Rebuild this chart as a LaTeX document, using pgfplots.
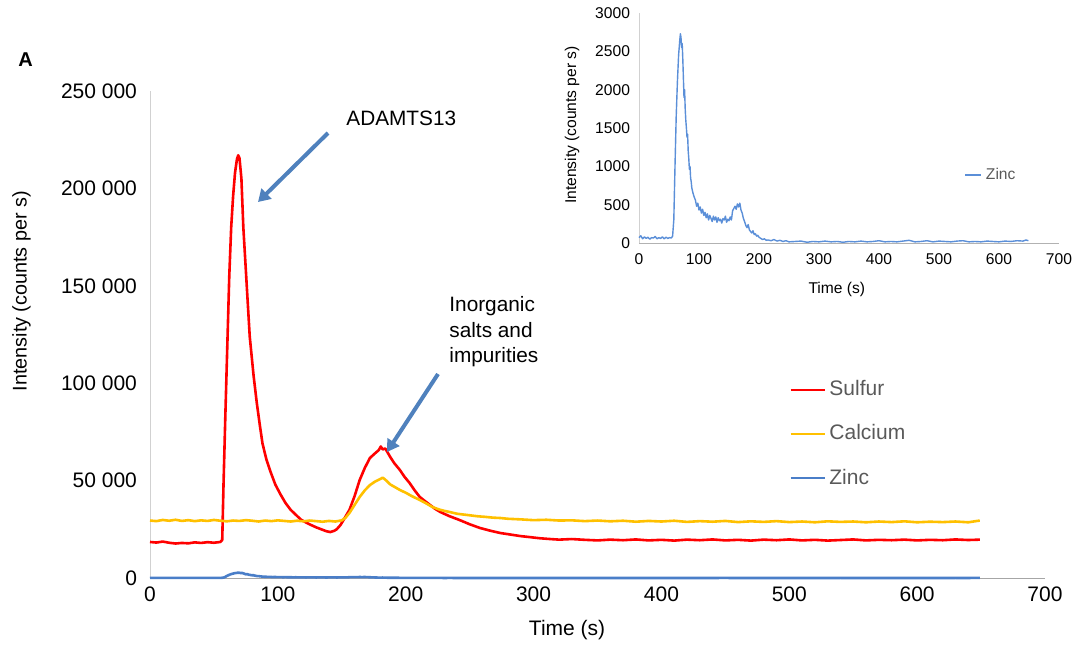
\documentclass[border=0pt]{standalone}
\usepackage{fontspec}
\setmainfont{Liberation Sans}
\usepackage{pgfplots}
\pgfplotsset{compat=1.18}
\usetikzlibrary{arrows.meta}

\definecolor{sulfurred}{HTML}{FF0000}
\definecolor{calcium}{HTML}{FFC000}
\definecolor{zinc}{HTML}{4A7EC8}
\definecolor{zincin}{HTML}{5B8FD8}
\definecolor{arrowblue}{HTML}{4F81BD}
\definecolor{legtext}{HTML}{595959}

\pgfplotstableread{
t v
0 18500
5 18200
10 18700
15 18100
20 17700
25 18000
30 17800
35 18300
40 18000
45 18400
50 18100
55 18500
56.5 19500
57.5 48000
59 85000
60.5 120000
62 155000
63.5 180000
65 196000
66.5 208000
68 215000
69 217000
70 215500
71.5 205000
73 180000
75.5 152000
78 124000
81 104000
83.5 90000
86 78000
88 69000
91 61000
94 55000
98 48000
102 43000
106 38500
110 35000
114 32500
118 30000
122 28500
126 27200
130 26000
134 25000
138 24000
141 23600
144 24200
146 25000
149 27200
152 30500
156 35000
160 42000
164 50300
168 56500
172 61600
176 64000
179 65700
180.5 67500
182 66000
184 66500
188 62000
191 59000
195.5 55400
199 52000
203 48800
207 45000
211 41600
215 39500
219 37500
223 35500
227 33900
234 31800
242 29800
250 27600
258 25700
266 24300
274 23100
282 22300
290 21500
297 21000
305 20400
313 20000
320 19700
330 20000
340 19600
350 19300
360 19700
370 19400
380 19800
390 19300
400 19600
410 19200
420 19700
430 19400
440 19800
450 19300
460 19600
470 19200
480 19700
490 19400
500 19800
510 19300
520 19600
530 19200
540 19500
550 19800
560 19300
570 19600
580 19400
590 19700
600 19300
610 19600
620 19400
630 19800
640 19500
649 19700
}\sulfurdata

\pgfplotstableread{
t v
0 29500
5 29200
10 29800
15 29400
20 29900
25 29300
30 29700
35 29200
40 29600
45 29300
50 29800
55 29400
60 29100
65 29500
70 29300
75 29700
80 29400
85 29000
90 29500
95 29200
100 29600
105 29300
110 29000
115 29400
120 29100
125 29500
130 29200
135 28900
140 29300
145 29000
150 29600
153 31000
156 33400
160 37500
164 41600
168 45000
172 47700
176 49500
180 50800
182 51500
184 50500
188 48000
192 46500
196 45000
200 43800
204 42300
208 41000
212 39700
216 38300
221 36400
226 35200
230 34500
235 33800
240 33000
245 32600
250 32200
256 31700
262 31400
268 31000
274 30800
280 30400
290 30100
300 29700
310 29900
320 29500
330 29600
340 29200
350 29500
360 29100
370 29400
380 28900
390 29300
400 29000
410 29400
420 28800
430 29200
440 28900
450 29300
460 28700
470 29100
480 28800
490 29200
500 28700
510 29000
520 28600
530 29100
540 28800
550 29000
560 28600
570 29000
580 28700
590 29100
600 28600
610 28900
620 28700
630 29000
640 28600
649 29500
}\calciumdata

\pgfplotstableread{
t v
0 70
3 95
6 55
9 80
12 60
15 75
18 50
21 70
24 65
27 85
30 55
33 70
36 60
39 80
42 55
45 75
48 60
51 70
54 65
56 90
58 300
60 1000
62 1650
64 2100
66 2450
68 2650
69 2730
70 2680
71 2550
72 2600
73 2400
74 2150
75 1900
76 2000
77 1750
78 1600
79 1500
80 1380
81 1420
82 1200
83 1100
84 960
85 1000
86 850
87 800
88 720
90 650
92 600
94 560
96 480
98 520
100 430
102 470
104 390
106 440
108 360
110 400
112 330
114 380
116 300
118 360
120 320
122 280
124 350
126 300
128 340
130 270
132 330
134 290
136 310
138 260
140 320
142 300
144 350
146 270
148 310
150 290
152 340
154 300
156 420
158 450
160 480
162 440
164 510
166 470
168 520
170 430
172 390
174 320
176 280
178 230
180 200
182 240
184 170
186 150
188 130
190 160
192 110
194 120
196 90
198 100
200 75
203 60
206 45
209 55
212 35
215 40
220 30
225 45
230 25
235 35
240 20
245 30
250 15
260 20
270 25
280 10
290 20
300 15
310 25
320 15
330 20
340 10
350 20
360 15
370 25
380 15
390 20
400 30
410 15
420 20
430 15
440 25
450 35
460 15
470 20
480 30
490 15
500 25
510 20
520 15
530 25
540 30
550 15
560 20
570 15
580 25
590 20
600 15
610 25
620 20
630 30
640 25
645 40
649 30
}\zincdata

\begin{document}
\begin{tikzpicture}
\useasboundingbox (0,0) rectangle (541pt,322.5pt);

% main chart
\begin{axis}[
    at={(75pt,33.5pt)}, anchor=south west,
    scale only axis, width=447.5pt, height=243.5pt,
    xmin=0, xmax=700, ymin=0, ymax=250000,
    xtick={0,100,...,700},
    ytick={0,50000,...,250000},
    scaled y ticks=false,
    axis lines=left,
    axis line style={-},
    x axis line style={draw=black!35},
    y axis line style={draw=black!18},
    major tick length=0pt,
    font=\fontsize{10.5pt}{12pt}\selectfont,
    /pgf/number format/assume math mode=true,
    yticklabel style={/pgf/number format/fixed, /pgf/number format/1000 sep={\ }, xshift=-3pt},
    xticklabel style={yshift=-1pt},
    xlabel={Time (s)},
    ylabel={Intensity (counts per s)},
    xlabel style={at={(rel axis cs:0.466,-0.107)}, anchor=center},
    ylabel style={at={(rel axis cs:-0.1435,0.589)}, anchor=center,
        font=\fontsize{9.9pt}{12pt}\selectfont},
    clip=false,
    legend style={at={(rel axis cs:0.7075,0.4227)}, anchor=north west,
        draw=none, fill=none,
        font=\fontsize{10.5pt}{12pt}\selectfont,
        row sep=9pt},
    legend cell align=left,
    legend image code/.code={\draw[#1] (0pt,0pt) -- (17pt,0pt);},
]
\addplot[color=sulfurred, line width=1.3pt, line join=round, forget plot] table[x=t,y=v] {\sulfurdata};
\addplot[color=calcium, line width=1.3pt, line join=round, forget plot] table[x=t,y=v] {\calciumdata};
\addplot[color=zinc, line width=1.3pt, line join=round, forget plot] table[x=t,y=v] {\zincdata};
\addlegendimage{color=sulfurred, line width=0.9pt}
\addlegendentry{\textcolor{legtext}{Sulfur}}
\addlegendimage{color=calcium, line width=0.9pt}
\addlegendentry{\textcolor{legtext}{Calcium}}
\addlegendimage{color=zinc, line width=0.9pt}
\addlegendentry{\textcolor{legtext}{Zinc}}
\end{axis}

% inset
\begin{axis}[
    at={(319.5pt,201pt)}, anchor=south west,
    scale only axis, width=210pt, height=115pt,
    xmin=0, xmax=700, ymin=0, ymax=3000,
    xtick={0,100,...,700},
    ytick={0,500,...,3000},
    scaled y ticks=false,
    axis lines=left,
    axis line style={-},
    x axis line style={draw=black!30},
    y axis line style={draw=black!18},
    major tick length=0pt,
    font=\fontsize{7.8pt}{9pt}\selectfont,
    /pgf/number format/assume math mode=true,
    yticklabel style={/pgf/number format/fixed, /pgf/number format/1000 sep={}, xshift=-1pt},
    xticklabel style={yshift=-2pt},
    xlabel={Time (s)},
    ylabel={Intensity (counts per s)},
    xlabel style={at={(rel axis cs:0.471,-0.204)}, anchor=center},
    ylabel style={at={(rel axis cs:-0.1595,0.513)}, anchor=center},
    clip=false,
    legend style={at={(rel axis cs:0.76,0.296)}, anchor=west,
        draw=none, fill=none,
        font=\fontsize{7.8pt}{9pt}\selectfont},
    legend image code/.code={\draw[#1] (0pt,0pt) -- (8pt,0pt);},
]
\addplot[color=zincin, line width=0.7pt, line join=round] table[x=t,y=v] {\zincdata};
\addlegendentry{\textcolor{legtext}{Zinc}}
\end{axis}

% annotations
\node[anchor=west, inner sep=0pt, font=\bfseries\fontsize{10pt}{11pt}\selectfont] at (9pt,292.5pt) {A};
\node[anchor=west, font=\fontsize{10.4pt}{12pt}\selectfont, inner sep=0pt] at (173pt,263.2pt) {ADAMTS13};
\draw[arrowblue, line width=2pt, -{Triangle[length=6pt,width=7pt]}] (164pt,256pt) -- (129pt,221.5pt);
\node[anchor=north west, align=left, inner sep=0pt,
      font=\fontsize{10.4pt}{12.8pt}\selectfont] at (224.5pt,174.5pt)
      {Inorganic\\salts and\\impurities};
\draw[arrowblue, line width=2pt, -{Triangle[length=6pt,width=7pt]}] (219pt,135.5pt) -- (193.5pt,96.5pt);
\end{tikzpicture}
\end{document}
